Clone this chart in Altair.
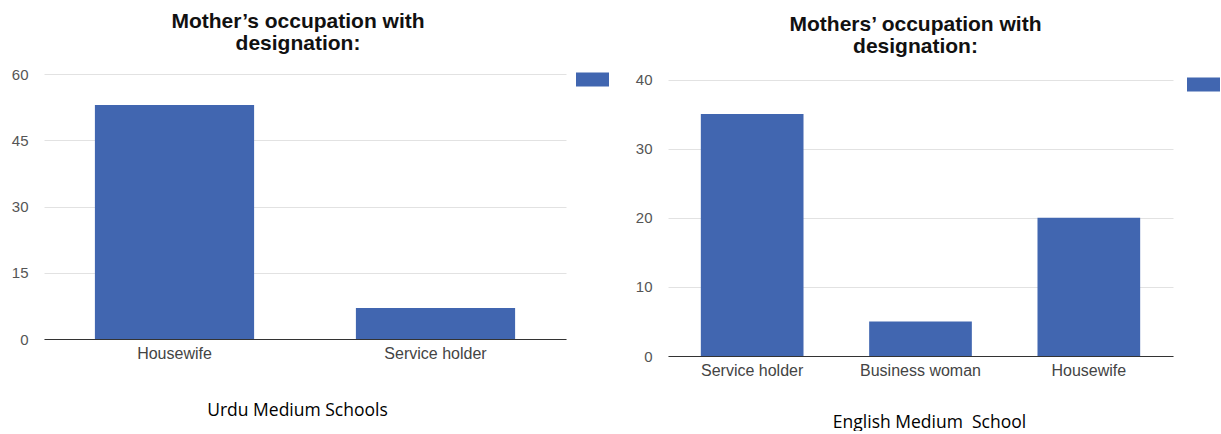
import altair as alt
import pandas as pd

# ---- data ----
urdu_categories = ["Housewife", "Service holder"]
urdu_values = [53, 7]
english_categories = ["Service holder", "Business woman", "Housewife"]
english_values = [35, 5, 20]

BLUE = "#4166B0"
SWATCH = "M-1,-0.42H1V0.42H-1Z"


def legend(x, y):
    return alt.Legend(title=None, orient="none", legendX=x, legendY=y,
                      symbolType=SWATCH, symbolSize=1089, symbolStrokeWidth=0,
                      symbolOpacity=1, labelExpr="''", labelOffset=0)


def panel(cats, vals, ymax, dmax, step, width, height, title_lines, title_dx,
          title_offset, caption, cap_x, cap_y, series_field, use_fill, leg):
    df = pd.DataFrame({"category": cats, "value": vals,
                       series_field: ["Count"] * len(cats)})
    enc = dict(
        x=alt.X("category:N", sort=cats,
                scale=alt.Scale(paddingInner=0.39, paddingOuter=0.195),
                axis=alt.Axis(title=caption, labelAngle=0, ticks=False,
                              domain=True, domainColor="#333333", domainWidth=1,
                              labelFont="Liberation Sans", labelFontSize=16,
                              labelColor="#444444", labelPadding=6,
                              titleFont="Open Sans", titleFontSize=17.5,
                              titleFontWeight="normal", titleColor="#000000",
                              titleX=cap_x, titleY=cap_y,
                              titleBaseline="alphabetic", titleAlign="center")),
        y=alt.Y("value:Q", scale=alt.Scale(domain=[0, dmax], nice=False),
                axis=alt.Axis(title=None, values=list(range(0, ymax + 1, step)),
                              grid=True, gridColor="#e2e2e2", domain=False,
                              ticks=False, labelFont="Liberation Sans",
                              labelFontSize=15, labelColor="#555555",
                              labelPadding=16)),
    )
    if use_fill:
        enc["fill"] = alt.Fill(f"{series_field}:N", scale=alt.Scale(range=[BLUE]),
                               legend=leg)
    else:
        enc["color"] = alt.Color(f"{series_field}:N", scale=alt.Scale(range=[BLUE]),
                                 legend=leg)
    return alt.Chart(df).mark_bar().encode(**enc).properties(
        width=width, height=height,
        title=alt.TitleParams(title_lines, font="Liberation Sans", fontSize=21,
                              fontWeight="bold", color="#111111",
                              anchor="middle", dx=title_dx,
                              offset=title_offset, lineHeight=22),
    )


left = panel(urdu_categories, urdu_values, 60, 60, 15, 522, 265,
             ["Mother’s occupation with", "designation:"], -7, 13,
             "Urdu Medium Schools", 253, 76, "series_u", False, legend(532, -11))
right = panel(english_categories, english_values, 40, 40.8, 10, 505, 282,
              ["Mothers’ occupation with", "designation:"], -5, 16,
              "English Medium\u00a0 School", 261, 71, "series_e", True,
              legend(1143, -6))

chart = alt.hconcat(left, right, spacing=69).properties(
    padding={"left": 11, "top": 11, "right": 0, "bottom": 0},
    background="white",
).configure_view(stroke=None)

chart.save("out.html", embed_options={"renderer": "svg", "actions": False})
